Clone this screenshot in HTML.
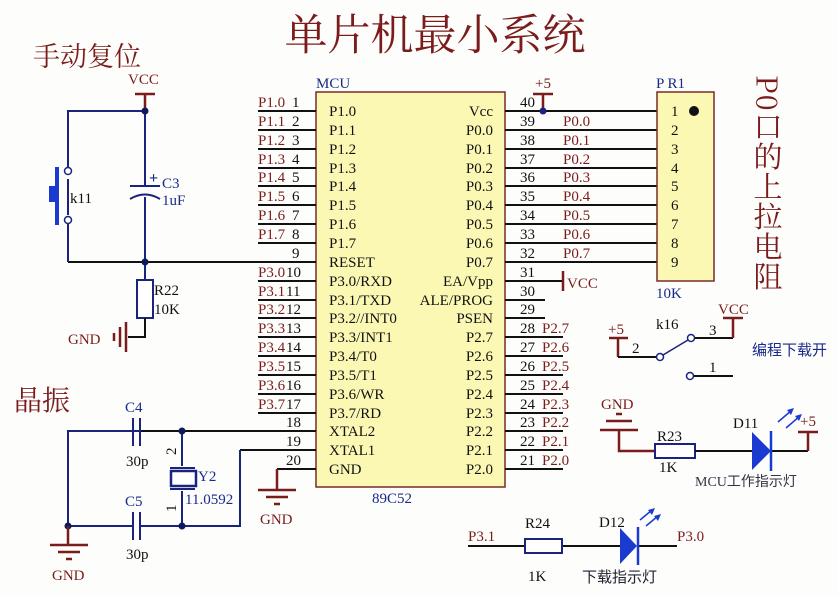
<!DOCTYPE html>
<html><head><meta charset="utf-8"><style>
body{margin:0;background:#fdfdfb}
svg{display:block}
text{font-family:"Liberation Serif","Noto Serif CJK SC",serif;font-size:15px}
.r{fill:#7a1c1c}.k{fill:#111}.b{fill:#1a2a8a}
.w{stroke:#1a237e;stroke-width:2;fill:none}
.bk{stroke:#111;stroke-width:2;fill:none}
.rd{stroke:#7a1c1c;stroke-width:2.5;fill:none}
</style></head><body>
<svg width="838" height="595" viewBox="0 0 838 595" xmlns="http://www.w3.org/2000/svg">
<text x="435" y="50" text-anchor="middle" style="font-size:43px;font-family:'Noto Serif CJK SC',serif" class="r">单片机最小系统</text>
<text x="33" y="66" style="font-size:27px;font-family:'Noto Serif CJK SC',serif" class="r">手动复位</text>
<text x="14" y="410" style="font-size:28px;font-family:'Noto Serif CJK SC',serif" class="r">晶振</text>

<rect x="316" y="92" width="189" height="395" fill="#fbf8b4" stroke="#7a2a2a" stroke-width="1.5"/>
<text x="316" y="88" class="b">MCU</text>
<text x="372" y="503" class="b">89C52</text>

<g class="bk">
<path d="M258 111H316M258 130H316M258 149H316M258 168H316M258 186H316M258 205H316M258 224H316M258 243H316M68 262H316M258 281H316M258 300H316M258 318H316M258 337H316M258 356H316M258 375H316M258 394H316M258 413H316M140 431H316M240 450H316M277 469H316"/>
</g>
<g class="r">
<text x="258" y="107">P1.0</text><text x="258" y="126">P1.1</text><text x="258" y="145">P1.2</text><text x="258" y="164">P1.3</text><text x="258" y="182">P1.4</text><text x="258" y="201">P1.5</text><text x="258" y="220">P1.6</text><text x="258" y="239">P1.7</text>
<text x="258" y="277">P3.0</text><text x="258" y="296">P3.1</text><text x="258" y="314">P3.2</text><text x="258" y="333">P3.3</text><text x="258" y="352">P3.4</text><text x="258" y="371">P3.5</text><text x="258" y="390">P3.6</text><text x="258" y="409">P3.7</text>
</g>
<g class="k">
<text x="292" y="107">1</text><text x="292" y="126">2</text><text x="292" y="145">3</text><text x="292" y="164">4</text><text x="292" y="182">5</text><text x="292" y="201">6</text><text x="292" y="220">7</text><text x="292" y="239">8</text><text x="292" y="258">9</text>
<text x="286" y="277">10</text><text x="286" y="296">11</text><text x="286" y="314">12</text><text x="286" y="333">13</text><text x="286" y="352">14</text><text x="286" y="371">15</text><text x="286" y="390">16</text><text x="286" y="409">17</text><text x="286" y="427">18</text><text x="286" y="446">19</text><text x="286" y="465">20</text>
<text x="329" y="116">P1.0</text><text x="329" y="135">P1.1</text><text x="329" y="154">P1.2</text><text x="329" y="173">P1.3</text><text x="329" y="191">P1.4</text><text x="329" y="210">P1.5</text><text x="329" y="229">P1.6</text><text x="329" y="248">P1.7</text><text x="329" y="267">RESET</text>
<text x="329" y="286">P3.0/RXD</text><text x="329" y="305">P3.1/TXD</text><text x="329" y="323">P3.2//INT0</text><text x="329" y="342">P3.3/INT1</text><text x="329" y="361">P3.4/T0</text><text x="329" y="380">P3.5/T1</text><text x="329" y="399">P3.6/WR</text><text x="329" y="418">P3.7/RD</text><text x="329" y="436">XTAL2</text><text x="329" y="455">XTAL1</text><text x="329" y="474">GND</text>
<text x="493" y="116" text-anchor="end">Vcc</text><text x="493" y="135" text-anchor="end">P0.0</text><text x="493" y="154" text-anchor="end">P0.1</text><text x="493" y="173" text-anchor="end">P0.2</text><text x="493" y="191" text-anchor="end">P0.3</text><text x="493" y="210" text-anchor="end">P0.4</text><text x="493" y="229" text-anchor="end">P0.5</text><text x="493" y="248" text-anchor="end">P0.6</text><text x="493" y="267" text-anchor="end">P0.7</text>
<text x="493" y="286" text-anchor="end">EA/Vpp</text><text x="493" y="305" text-anchor="end">ALE/PROG</text><text x="493" y="323" text-anchor="end">PSEN</text><text x="493" y="342" text-anchor="end">P2.7</text><text x="493" y="361" text-anchor="end">P2.6</text><text x="493" y="380" text-anchor="end">P2.5</text><text x="493" y="399" text-anchor="end">P2.4</text><text x="493" y="418" text-anchor="end">P2.3</text><text x="493" y="436" text-anchor="end">P2.2</text><text x="493" y="455" text-anchor="end">P2.1</text><text x="493" y="474" text-anchor="end">P2.0</text>
<text x="520" y="107">40</text><text x="520" y="126">39</text><text x="520" y="145">38</text><text x="520" y="164">37</text><text x="520" y="182">36</text><text x="520" y="201">35</text><text x="520" y="220">34</text><text x="520" y="239">33</text><text x="520" y="258">32</text><text x="520" y="277">31</text><text x="520" y="296">30</text><text x="520" y="314">29</text>
<text x="520" y="333">28</text><text x="520" y="352">27</text><text x="520" y="371">26</text><text x="520" y="390">25</text><text x="520" y="409">24</text><text x="520" y="427">23</text><text x="520" y="446">22</text><text x="520" y="465">21</text>
</g>
<path class="bk" d="M505 111H657M505 130H657M505 149H657M505 168H657M505 186H657M505 205H657M505 224H657M505 243H657M505 262H657M505 281H563M505 300H545M505 318H545M505 337H563M505 356H563M505 375H563M505 394H563M505 413H563M505 431H563M505 450H563M505 469H563"/>
<g class="r">
<text x="563" y="126">P0.0</text><text x="563" y="145">P0.1</text><text x="563" y="164">P0.2</text><text x="563" y="182">P0.3</text><text x="563" y="201">P0.4</text><text x="563" y="220">P0.5</text><text x="563" y="239">P0.6</text><text x="563" y="258">P0.7</text>
<text x="542" y="333">P2.7</text><text x="542" y="352">P2.6</text><text x="542" y="371">P2.5</text><text x="542" y="390">P2.4</text><text x="542" y="409">P2.3</text><text x="542" y="427">P2.2</text><text x="542" y="446">P2.1</text><text x="542" y="465">P2.0</text>
<text x="535" y="88">+5</text><text x="567" y="288">VCC</text>
</g>
<path class="rd" d="M533 94H553M543 94V111M563 271V291"/>
<circle cx="543" cy="111" r="3.5" fill="#1a237e"/>

<rect x="657" y="92" width="57" height="189" fill="#fbf8b4" stroke="#7a2a2a" stroke-width="1.5"/>
<text x="656" y="88" class="b">P  R1</text>
<text x="656" y="298" class="b">10K</text>
<circle cx="694" cy="111" r="5" fill="#111"/>
<g class="k"><text x="671" y="116">1</text><text x="671" y="135">2</text><text x="671" y="154">3</text><text x="671" y="173">4</text><text x="671" y="191">5</text><text x="671" y="210">6</text><text x="671" y="229">7</text><text x="671" y="248">8</text><text x="671" y="267">9</text></g>
<text x="768" y="75" class="r" style="font-size:29px;writing-mode:vertical-rl;letter-spacing:1px;font-family:'Noto Serif CJK SC',serif">P0口的上拉电阻</text>

<text x="128" y="84" class="r">VCC</text>
<path class="rd" d="M135 94H155M145 94V111"/>
<path class="w" d="M145 111H68V171M68 179V215M68 224V262M145 111V186M145 197V262M145 262V280"/>
<circle cx="68" cy="171" r="3.5" fill="#fff" stroke="#1a237e" stroke-width="1.5"/>
<circle cx="68" cy="220" r="3.5" fill="#fff" stroke="#1a237e" stroke-width="1.5"/>
<rect x="55" y="167" width="4" height="58" fill="#1a3ad0"/><rect x="49" y="186" width="8" height="16" fill="#1a3ad0"/>
<text x="70" y="203" class="k">k11</text>
<path class="w" d="M130 186H160M130 199Q145 190 160 199"/>
<text x="149" y="183" class="b" style="font-size:16px;font-weight:bold">+</text>
<text x="162" y="188" class="b">C3</text><text x="162" y="205" class="b">1uF</text>
<circle cx="145" cy="111" r="3.5" fill="#0b1a5a"/><circle cx="145" cy="262" r="3.5" fill="#0b1a5a"/>
<rect x="137" y="280" width="16" height="38" fill="#fff" stroke="#1a237e" stroke-width="2"/>
<text x="154" y="295" class="k">R22</text><text x="154" y="314" class="k">10K</text>
<path class="bk" d="M145 318V337H128"/>
<path class="rd" d="M126 322V352M120 327V347M114 333V341"/>
<text x="68" y="344" class="r">GND</text>

<path class="w" d="M140 431H68V526H133M140 526H240V450M133 431H68M182 431V466M182 491V526"/>
<path class="w" d="M133 418V446M140 418V446M133 512V540M140 512V540M170 468H195M170 489H195"/>
<rect x="171" y="471" width="25" height="15" fill="#fff" stroke="#1a237e" stroke-width="2.5"/>
<circle cx="182" cy="431" r="3.5" fill="#0b1a5a"/><circle cx="182" cy="526" r="3.5" fill="#0b1a5a"/><circle cx="68" cy="526" r="3.5" fill="#0b1a5a"/>
<text x="125" y="412" class="b">C4</text><text x="126" y="466" class="k">30p</text>
<text x="125" y="506" class="b">C5</text><text x="126" y="559" class="k">30p</text>
<text x="198" y="481" class="b">Y2</text><text x="185" y="504" class="b">11.0592</text>
<text x="176" y="455" class="k" transform="rotate(-90 176 455)">2</text>
<text x="176" y="512" class="k" transform="rotate(-90 176 512)">1</text>
<path class="rd" d="M68 526V545M50 545H88M58 552H80M66 559H72"/>
<text x="52" y="580" class="r">GND</text>
<path class="rd" d="M277 469V490M258 490H296M266 497H288M274 504H280"/>
<text x="260" y="524" class="r">GND</text>

<text x="608" y="334" class="r">+5</text>
<path class="rd" d="M609 338H628M618 338V357"/>
<path class="bk" d="M618 357H656M695 338H733M694 376H733"/>
<path class="rd" d="M733 338V318M723 318H743"/>
<text x="718" y="314" class="r">VCC</text>
<text x="632" y="353" class="k">2</text><text x="709" y="335" class="k">3</text><text x="709" y="372" class="k">1</text>
<text x="656" y="329" class="k">k16</text>
<circle cx="660" cy="357" r="3.5" fill="#fff" stroke="#1a237e" stroke-width="1.5"/>
<circle cx="691" cy="338" r="3.5" fill="#fff" stroke="#1a237e" stroke-width="1.5"/>
<circle cx="690" cy="376" r="3.5" fill="#fff" stroke="#1a237e" stroke-width="1.5"/>
<path class="w" d="M663 355L688 340" style="stroke-width:1.5"/>
<text x="752" y="355" class="b" style="font-size:15px;font-family:'Noto Sans CJK SC',sans-serif">编程下载开</text>

<text x="601" y="409" class="r">GND</text>
<path class="rd" d="M616 414H622M606 421H632M600 430H638M619 430V451H655"/>
<rect x="655" y="444" width="40" height="14" fill="#fff" stroke="#1a237e" stroke-width="2"/>
<path class="bk" d="M695 451H752M770 451H808"/>
<path class="rd" d="M808 451V432M798 432H818"/>
<text x="800" y="426" class="r">+5</text>
<polygon points="752,432 771,451 752,470" fill="#1a3ad0"/>
<path d="M771 431V471" stroke="#1a3ad0" stroke-width="2.5"/>
<path d="M778 422L792 410M786 428L800 416" stroke="#1a3ad0" stroke-width="1.5"/>
<polygon points="794,408 787,410 791,415" fill="#1a3ad0"/><polygon points="802,414 795,416 799,421" fill="#1a3ad0"/>
<text x="733" y="428" class="k">D11</text>
<text x="657" y="441" class="k">R23</text><text x="659" y="472" class="k">1K</text>
<text x="695" y="486" style="font-size:14px;font-family:'Liberation Serif','Noto Sans CJK SC',sans-serif;fill:#334">MCU工作指示灯</text>

<text x="468" y="541" class="r">P3.1</text>
<path class="bk" d="M468 546H525M562 546H620M637 546H677"/>
<rect x="525" y="539" width="37" height="14" fill="#fff" stroke="#1a237e" stroke-width="2"/>
<polygon points="620,528 637,546 620,564" fill="#1a3ad0"/>
<path d="M638 527V565" stroke="#1a3ad0" stroke-width="2.5"/>
<path d="M640 520L652 510M646 526L658 516" stroke="#1a3ad0" stroke-width="1.5"/>
<polygon points="655,508 648,510 652,515" fill="#1a3ad0"/><polygon points="661,514 654,516 658,521" fill="#1a3ad0"/>
<text x="677" y="541" class="r">P3.0</text>
<text x="525" y="528" class="k">R24</text><text x="528" y="581" class="k">1K</text>
<text x="599" y="527" class="k">D12</text>
<text x="582" y="582" style="font-size:15px;font-family:'Noto Sans CJK SC',sans-serif;fill:#223">下载指示灯</text>
</svg>
</body></html>
